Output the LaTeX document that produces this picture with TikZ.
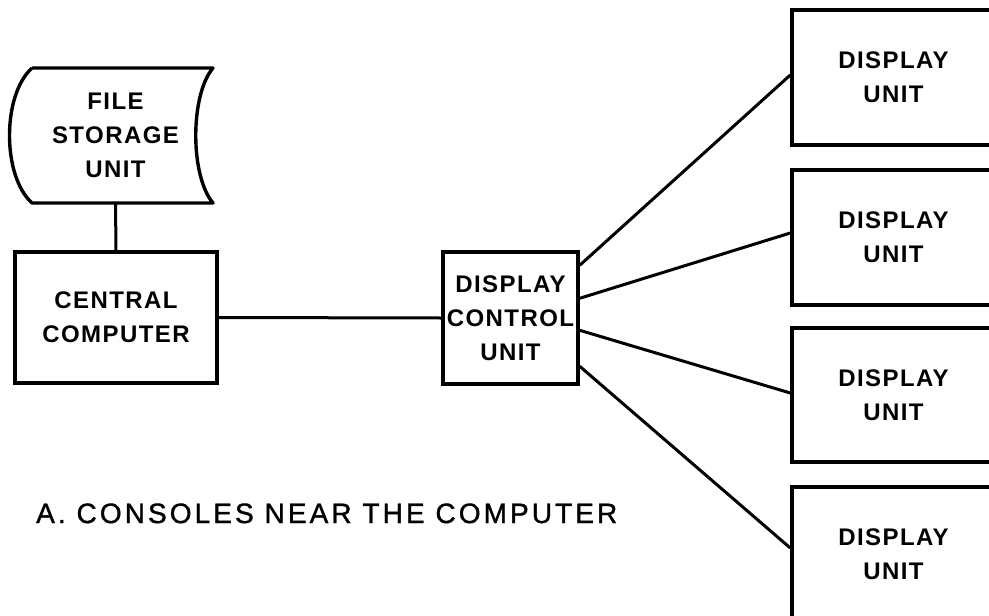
\documentclass[tikz,border=0pt]{standalone}
\usepackage{fontspec}
\newfontfamily\labfont[LetterSpace=6]{Liberation Sans Bold}
\newfontfamily\capfont[LetterSpace=11,FakeBold=1.2]{Liberation Sans}
\begin{document}
\begin{tikzpicture}[x=1pt,y=-1pt,
  box/.style={draw,line width=3.4pt,rectangle,inner sep=0pt},
  lab/.style={font=\labfont\fontsize{24}{34}\selectfont,align=center},
  wire/.style={line width=3pt}]
\useasboundingbox (0,0) rectangle (989,616);
\clip (0,0) rectangle (989,616);
\fill[white] (0,0) rectangle (989,616);
% file storage unit
\draw[line width=3.4pt,line join=round] (32,68) -- (213,68)
  .. controls (190,95) and (190,176) .. (213,203) -- (32,203)
  .. controls (2,176) and (2,95) .. (32,68);
\node[lab,inner sep=0pt,minimum width=181pt,minimum height=135pt] (fs) at (115.5,135.5) {FILE\\STORAGE\\UNIT};
% central computer
\node[box,lab,minimum width=202pt,minimum height=131pt] (cc) at (116,317.5) {CENTRAL\\COMPUTER};
% display control unit
\node[box,lab,minimum width=135pt,minimum height=132pt] (dcu) at (510.5,318) {DISPLAY\\CONTROL\\UNIT};
% display units
\node[box,lab,minimum width=203pt,minimum height=135pt] (d1) at (893.5,77.5) {DISPLAY\\UNIT};
\node[box,lab,minimum width=203pt,minimum height=135pt] (d2) at (893.5,237.5) {DISPLAY\\UNIT};
\node[box,lab,minimum width=203pt,minimum height=134pt] (d3) at (893.5,395) {DISPLAY\\UNIT};
\node[box,lab,minimum width=203pt,minimum height=134pt] (d4) at (893.5,554) {DISPLAY\\UNIT};
% caption
\node[font=\capfont\fontsize{28}{30}\selectfont,anchor=base west,inner sep=0pt] (cap) at (36,523) {A. CONSOLES NEAR THE COMPUTER};
% connectors
\draw[wire] (fs.south) -- (cc.north);
\draw[wire] (cc.east) -- (dcu.west);
\draw[wire] ([yshift=-15pt]dcu.north east) -- ([yshift=2.5pt]d1.west);
\draw[wire] ([yshift=-48pt]dcu.north east) -- ([yshift=4.5pt]d2.west);
\draw[wire] ([yshift=-80pt]dcu.north east) -- ([yshift=2pt]d3.west);
\draw[wire] ([yshift=-116pt]dcu.north east) -- ([yshift=6pt]d4.west);
\end{tikzpicture}
\end{document}
